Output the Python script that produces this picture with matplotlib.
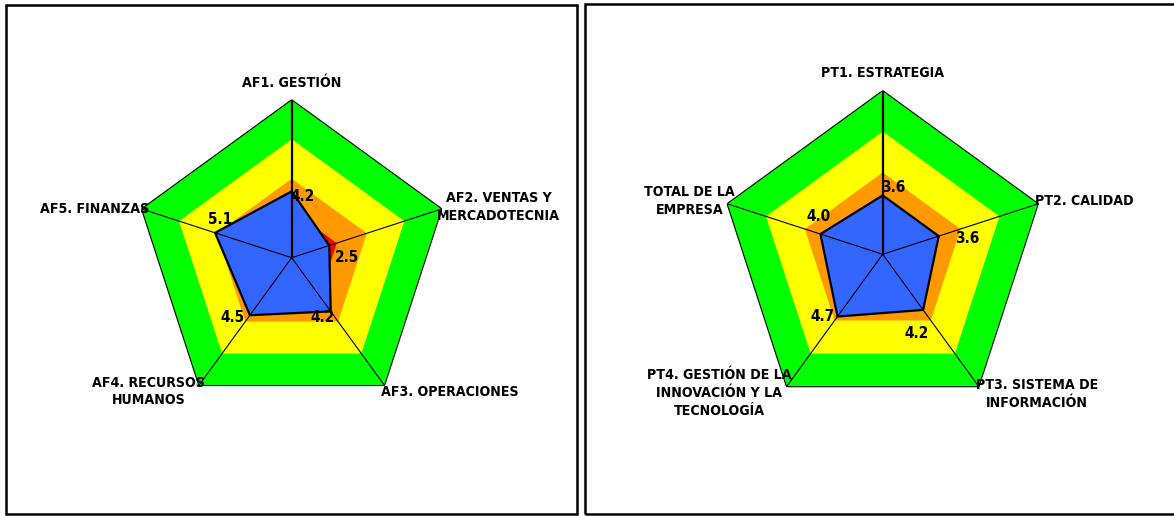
import numpy as np
import matplotlib
matplotlib.use("Agg")
import matplotlib.pyplot as plt
from matplotlib.patches import Rectangle

plt.rcParams["font.family"] = ["DejaVu Sans"]
plt.rcParams["font.stretch"] = "condensed"
plt.rcParams["font.weight"] = "bold"

# Datos
left_categories = ["AF1. GESTIÓN", "AF2. VENTAS Y\nMERCADOTECNIA", "AF3. OPERACIONES",
                   "AF4. RECURSOS\nHUMANOS", "AF5. FINANZAS"]
left_values = [4.2, 2.5, 4.2, 4.5, 5.1]

right_categories = ["PT1. ESTRATEGIA", "PT2. CALIDAD", "PT3. SISTEMA DE\nINFORMACIÓN",
                    "PT4. GESTIÓN DE LA\nINNOVACIÓN Y LA\nTECNOLOGÍA", "TOTAL DE LA\nEMPRESA"]
right_values = [3.6, 3.6, 4.2, 4.7, 4.0]

# Niveles de las bandas de color
band_levels = [10, 7.5, 5, 3]
band_colors = ["#00FF00", "#FFFF00", "#FF9900", "#FF0000"]

# Posicion de etiquetas (offset en pixeles, alineacion)
left_label_pos = [((0, 17), "center"), ((-5, 2), "left"), ((-4, -6), "left"),
                  ((6, -6), "right"), ((8, 0), "right")]
left_value_pos = [(11, -5), (18, -12), (-8, -6), (-17, -2), (5, 13)]
right_label_pos = [((0, 18), "center"), ((-3, 3), "left"), ((-3, -7), "left"),
                   ((5, -6), "right"), ((8, 3), "right")]
right_value_pos = [(11, 8), (29, -2), (-7, -24), (-15, 0), (-2, 18)]


def closed(vals):
    return list(vals) + [vals[0]]


def draw_radar(ax, categories, values, label_pos, value_pos):
    n = len(categories)
    angles = np.linspace(0, 2 * np.pi, n, endpoint=False)
    ang_c = closed(angles)

    ax.set_theta_offset(np.pi / 2)
    ax.set_theta_direction(-1)
    ax.set_ylim(0, 10)
    ax.axis("off")

    for level, color in zip(band_levels, band_colors):
        ax.fill(ang_c, [level] * (n + 1), color=color, lw=0, zorder=1)
    ax.plot(ang_c, [band_levels[0]] * (n + 1), color="black", lw=0.8, zorder=2)

    ax.fill(ang_c, closed(values), color="#3366FF", lw=0, zorder=3)
    ax.plot(ang_c, closed(values), color="black", lw=1.6, zorder=4)

    for i, a in enumerate(angles):
        ax.plot([a, a], [0, 10], color="black", lw=1.6 if i == 0 else 0.8, zorder=5)

    for a, cat, (off, ha) in zip(angles, categories, label_pos):
        ax.annotate(cat, xy=(a, 10), xytext=off, textcoords="offset pixels",
                    ha=ha, va="center", multialignment="center", linespacing=1.35,
                    fontsize=10.2, fontweight="bold", annotation_clip=False)

    for a, v, off in zip(angles, values, value_pos):
        ax.annotate(f"{v:.1f}", xy=(a, v), xytext=off, textcoords="offset pixels",
                    ha="center", va="center", fontsize=11, fontweight="bold",
                    zorder=6, annotation_clip=False)


fig = plt.figure(figsize=(11.74, 5.16), dpi=100)

W, H = 1174, 516
ax1 = fig.add_axes([(291.7 - 158) / W, (H - 257.7 - 158) / H, 316 / W, 316 / H], projection="polar")
ax2 = fig.add_axes([(882.7 - 163.7) / W, (H - 254.3 - 163.7) / H, 327.4 / W, 327.4 / H], projection="polar")

draw_radar(ax1, left_categories, left_values, left_label_pos, left_value_pos)
draw_radar(ax2, right_categories, right_values, right_label_pos, right_value_pos)

fig.add_artist(Rectangle((6 / W, 2 / H), 571 / W, 509 / H, transform=fig.transFigure,
                         fill=False, lw=1.8, edgecolor="black"))
fig.add_artist(Rectangle((585 / W, 2 / H), 600 / W, 510 / H, transform=fig.transFigure,
                         fill=False, lw=1.8, edgecolor="black"))

fig.savefig("out.png", dpi=100)
